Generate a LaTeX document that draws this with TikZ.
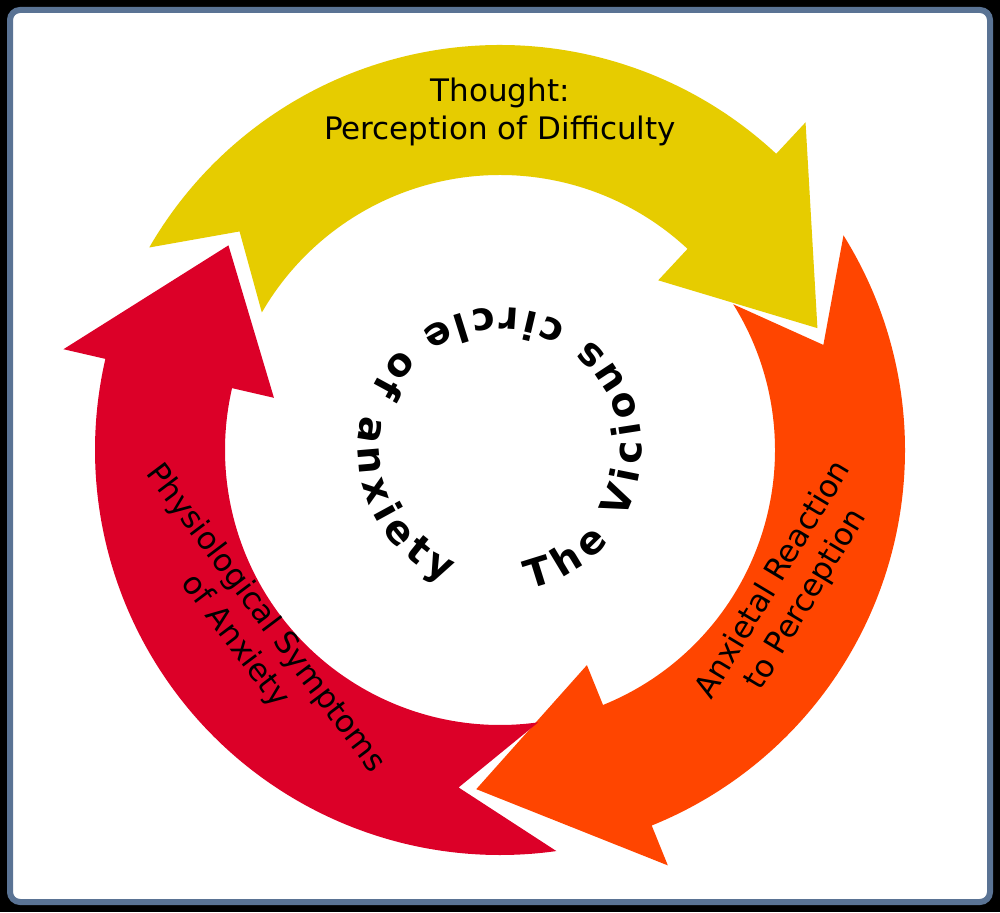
\documentclass[tikz,border=0pt]{standalone}
\usepackage{fontspec}
\setmainfont{DejaVu Sans}
\usetikzlibrary{calc,decorations.text}
\definecolor{cyel}{HTML}{E6CC00}
\definecolor{cora}{HTML}{FF4500}
\definecolor{cred}{HTML}{DC0028}
\definecolor{cframe}{HTML}{5A7394}
\newcommand\ringarrow[6]{% name color t n h p
  \fill[#2] ($(c)+(#3:405)$) arc[start angle=#3,end angle=#5,radius=405]
    -- ($(c)+(#5:448)$) -- ($(c)+(#6:340)$) coordinate (#1) -- ($(c)+(#5:232)$)
    -- ($(c)+(#5:275)$) arc[start angle=#5,end angle=#3,radius=275]
    -- ($(c)+(#4:340)$) -- cycle;}
\tikzset{lab/.style={font=\fontsize{31}{38}\selectfont,align=center,text=black}}
\begin{document}
\begin{tikzpicture}[x=1pt,y=1pt]
\useasboundingbox (0,0) rectangle (1000,912);
\fill[black] (0,0) rectangle (1000,912);
\draw[line width=6pt,draw=cframe,fill=white,rounded corners=10pt] (10,10) rectangle (990,902);
\coordinate (c) at (500,462);
\ringarrow{ytip}{cyel}{150}{140}{47}{21}
\ringarrow{otip}{cora}{32}{18}{-68}{-94}
\ringarrow{rtip}{cred}{-82}{-97}{-193}{-217}
\node[lab] (t1) at (500,800) {Thought:\\Perception of Difficulty};
\node[lab,rotate=59] (t2) at (790,322) {Anxietal Reaction\\to Perception};
\node[lab,rotate=-53] (t3) at (250,282) {Physiological Symptoms\\of Anxiety};
\path[decorate,decoration={text along path,text align={fit to path},
  text={|\bfseries\fontsize{39}{39}\selectfont|The Vicious circle of anxiety}}]
  ($(c)+(-78:142)$) arc[start angle=-78,end angle=248,radius=142];
\end{tikzpicture}
\end{document}
